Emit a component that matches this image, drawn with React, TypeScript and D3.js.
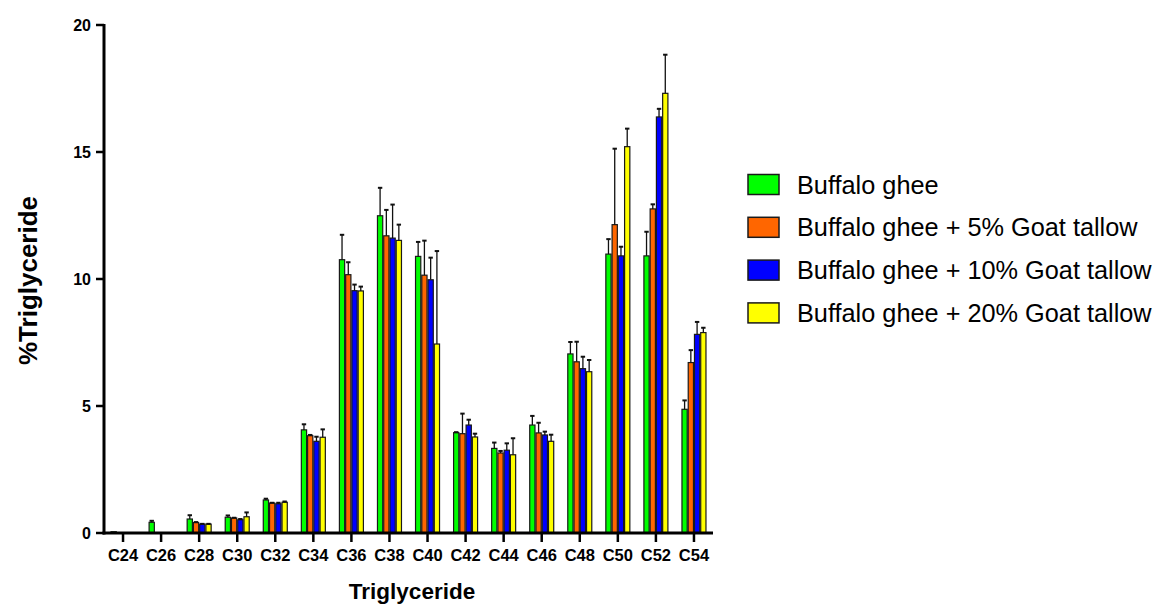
import React from "react";
import * as d3 from "d3";

const categories = ["C24","C26","C28","C30","C32","C34","C36","C38","C40","C42","C44","C46","C48","C50","C52","C54"];
const seriesNames = ["Buffalo ghee","Buffalo ghee + 5% Goat tallow","Buffalo ghee + 10% Goat tallow","Buffalo ghee + 20% Goat tallow"];
const seriesColors = ["#00ff00","#ff6600","#0000ff","#ffff00"];

const ghee = [0.05,0.42,0.55,0.62,1.30,4.06,10.76,12.49,10.89,3.95,3.33,4.25,7.05,10.98,10.91,4.87];
const ghee5 = [0,0,0.41,0.59,1.18,3.83,10.17,11.70,10.15,3.91,3.15,3.94,6.74,12.14,12.76,6.71];
const ghee10 = [0,0,0.35,0.52,1.15,3.61,9.54,11.61,9.97,4.25,3.26,3.86,6.47,10.91,16.38,7.82];
const ghee20 = [0,0,0.35,0.64,1.21,3.77,9.53,11.52,7.44,3.78,3.08,3.61,6.35,15.21,17.31,7.89];

const gheeSD = [0,0.06,0.15,0.07,0.05,0.22,0.98,1.10,0.57,0.02,0.23,0.36,0.47,0.59,0.95,0.35];
const ghee5SD = [0,0,0.02,0.01,0.01,0.03,0.49,1.02,1.36,0.79,0.08,0.40,0.79,2.99,0.18,0.49];
const ghee10SD = [0,0,0.01,0.03,0.04,0.18,0.24,1.32,0.87,0.21,0.27,0.13,0.47,0.36,0.32,0.49];
const ghee20SD = [0,0,0.01,0.17,0.03,0.31,0.17,0.62,3.66,0.13,0.65,0.26,0.46,0.71,1.52,0.19];

const yTicks = [0,5,10,15,20];

const values = [ghee, ghee5, ghee10, ghee20];
const errors = [gheeSD, ghee5SD, ghee10SD, ghee20SD];

const FONT = "'Liberation Sans', Arial, Helvetica, sans-serif";

export default function App() {
  const W = 1160, H = 608;
  const x0 = 104, x1 = 713, yBase = 533, yTop = 25;
  const x = d3.scaleBand<string>().domain(categories).range([x0, x1]).paddingInner(0).paddingOuter(0);
  const y = d3.scaleLinear().domain([0, 20]).range([yBase, yTop]);
  const groupW = 25;
  const xi = d3.scaleBand<number>().domain([0,1,2,3]).range([0, groupW]).padding(0);
  const bw = xi.bandwidth();

  return (
    <svg width={W} height={H} style={{ position: "absolute", left: 0, top: 0, background: "#fff" }}>
      <rect x={0} y={0} width={W} height={H} fill="#fff" />
      {/* bars */}
      {categories.map((c, ci) => {
        const gx = (x(c) as number) + x.bandwidth() / 2 - groupW / 2;
        return (
          <g key={c}>
            {values.map((vals, si) => {
              const v = vals[ci];
              if (v <= 0) return null;
              const bx = gx + (xi(si) as number);
              return (
                <rect key={si} x={bx + 0.5} y={y(v)} width={bw - 1} height={yBase - y(v)}
                  fill={seriesColors[si]} stroke="#1a1a1a" strokeWidth={1.2} />
              );
            })}
            {values.map((vals, si) => {
              const v = vals[ci];
              const e = errors[si][ci];
              if (v <= 0 || e <= 0) return null;
              const cx = gx + (xi(si) as number) + bw / 2;
              return (
                <g key={"e" + si} stroke="#111" strokeWidth={1.3}>
                  <line x1={cx} x2={cx} y1={y(v)} y2={y(v + e)} />
                  <line x1={cx - 2.2} x2={cx + 2.2} y1={y(v + e)} y2={y(v + e)} strokeWidth={2} />
                </g>
              );
            })}
          </g>
        );
      })}
      {/* y axis */}
      <line x1={x0} x2={x0} y1={yTop - 1} y2={yBase + 1.5} stroke="#000" strokeWidth={3} />
      {yTicks.map((t) => (
        <g key={t}>
          <line x1={x0 - 8} x2={x0} y1={y(t)} y2={y(t)} stroke="#000" strokeWidth={2.5} />
          <text x={x0 - 13} y={y(t)} dy="0.35em" textAnchor="end" fontFamily={FONT} fontWeight="bold" fontSize={16}>{t}</text>
        </g>
      ))}
      {/* x axis */}
      <line x1={x0 - 1.5} x2={x1} y1={yBase} y2={yBase} stroke="#000" strokeWidth={3} />
      {categories.map((c) => {
        const cx = (x(c) as number) + x.bandwidth() / 2;
        return (
          <g key={c}>
            <line x1={cx} x2={cx} y1={yBase} y2={yBase + 9} stroke="#000" strokeWidth={2.5} />
            <text x={cx} y={561} textAnchor="middle" fontFamily={FONT} fontWeight="bold" fontSize={16.5}>{c}</text>
          </g>
        );
      })}
      {/* axis titles */}
      <text x={412} y={599} textAnchor="middle" fontFamily={FONT} fontWeight="bold" fontSize={22.5}>Triglyceride</text>
      <text transform={`translate(37,280.5) rotate(-90)`} textAnchor="middle" fontFamily={FONT} fontWeight="bold" fontSize={26}>%Triglyceride</text>
      {/* legend */}
      {seriesNames.map((n, i) => {
        const cy = 184.5 + i * 42.8;
        return (
          <g key={n}>
            <rect x={748} y={cy - 10} width={31} height={20} fill={seriesColors[i]} stroke="#1a1a1a" strokeWidth={1.5} />
            <text x={797} y={cy + 9} fontFamily={FONT} fontSize={25.3} fill="#000">{n}</text>
          </g>
        );
      })}
    </svg>
  );
}
